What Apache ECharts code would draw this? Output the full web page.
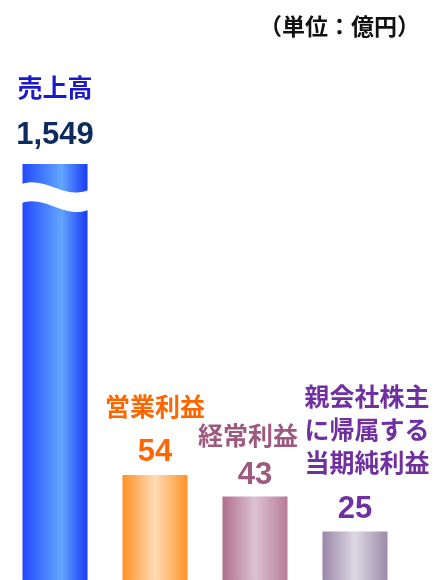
<!DOCTYPE html>
<html>
<head>
<meta charset="utf-8">
<script src="https://cdn.jsdelivr.net/npm/echarts@6/dist/echarts.min.js"></script>
<style>
html,body{margin:0;padding:0;background:#fff;}
#c{width:436px;height:580px;}
</style>
</head>
<body>
<div id="c"></div>
<script>
// ---- data ----
const categories = ['売上高', '営業利益', '経常利益', '親会社株主に帰属する当期純利益'];
const nameLines = [['売上高'], ['営業利益'], ['経常利益'], ['親会社株主', 'に帰属する', '当期純利益']];
const values = [1549, 54, 43, 25];
const unitText = '（単位：億円）';
const Y_MAX = 214; // axis is broken: the first bar is cut at the top of the scale

// ---- styles ----
const nameColors = ['#1a1acc', '#ff6600', '#9e5a7e', '#7030a0'];
const valueColors = ['#0d2b5e', '#ff6600', '#9e5a7e', '#7030a0'];
const gradStops = [
  [[0, '#2248ff'], [0.6, '#62a6ff'], [1, '#1a3af5']],
  [[0, '#ff9024'], [0.5, '#ffdcb8'], [1, '#ff9326']],
  [[0, '#b06e8e'], [0.5, '#dcc3d2'], [1, '#b87c98']],
  [[0, '#9a86a8'], [0.5, '#dcd9e3'], [1, '#9c8aaa']]
];
const spacer = [16, 14, 8, 15];
const nameShift = [0, 0, -7, 12];
const labelDist = [14, 8, 6, 7];
const BAR_W = 65;
const CJK = '"Noto Sans CJK JP", sans-serif';
const NUM = '"Liberation Sans", Arial, sans-serif';

function fmt(v) { return v.toLocaleString('en-US'); }

const seriesData = values.map((v, i) => {
  const sh = nameShift[i];
  const pad = sh >= 0 ? [0, 0, 0, 2 * sh] : [0, -2 * sh, 0, 0];
  const parts = nameLines[i].map(s => '{n|' + s + '}');
  parts.push('{s| }');
  parts.push('{v|' + fmt(v) + '}');
  return {
    value: Math.min(v, Y_MAX),
    itemStyle: {
      color: new echarts.graphic.LinearGradient(0, 0, 1, 0,
        gradStops[i].map(s => ({ offset: s[0], color: s[1] })))
    },
    label: {
      show: true,
      position: 'top',
      distance: labelDist[i],
      formatter: parts.join('\n'),
      rich: {
        n: { fontFamily: CJK, fontWeight: 'bold', fontSize: 25, lineHeight: 33, color: nameColors[i], padding: pad },
        s: { fontSize: 4, lineHeight: spacer[i] },
        v: { fontFamily: NUM, fontWeight: 'bold', fontSize: 31, lineHeight: 30, color: valueColors[i] }
      }
    }
  };
});

const chart = echarts.init(document.getElementById('c'), null, { renderer: 'canvas' });
chart.setOption({
  animation: false,
  backgroundColor: '#fff',
  title: {
    text: unitText,
    left: 254, top: 10,
    textStyle: { fontFamily: CJK, fontWeight: 'bold', fontSize: 23, color: '#111' }
  },
  grid: { left: 5, right: 31, top: 164, bottom: 0 },
  xAxis: { type: 'category', data: categories, show: false },
  yAxis: { type: 'value', min: 0, max: Y_MAX, show: false },
  series: [{
    type: 'bar',
    barWidth: BAR_W,
    data: seriesData
  }]
});

// wave-shaped break on the first (cut) bar
function bez(p0, p1, p2, p3, s) {
  const u = 1 - s;
  return u * u * u * p0 + 3 * u * u * s * p1 + 3 * u * s * s * p2 + s * s * s * p3;
}
const capPt = chart.convertToPixel({ seriesIndex: 0 }, [0, Y_MAX]);
const xl = capPt[0] - BAR_W / 2 - 1, w = BAR_W + 2, t = capPt[1];
const pts = [];
const N = 40;
for (let k = 0; k <= N; k++) {
  const s = k / N;
  pts.push([bez(xl, xl + w * 0.37, xl + w * 0.63, xl + w, s), bez(t + 20, t + 12, t + 36, t + 26, s)]);
}
for (let k = N; k >= 0; k--) {
  const s = k / N;
  pts.push([bez(xl, xl + w * 0.37, xl + w * 0.63, xl + w, s), bez(t + 39, t + 31, t + 55, t + 46, s)]);
}
chart.setOption({
  graphic: [{ type: 'polygon', shape: { points: pts }, style: { fill: '#fff' }, z: 100 }]
});
</script>
</body>
</html>
